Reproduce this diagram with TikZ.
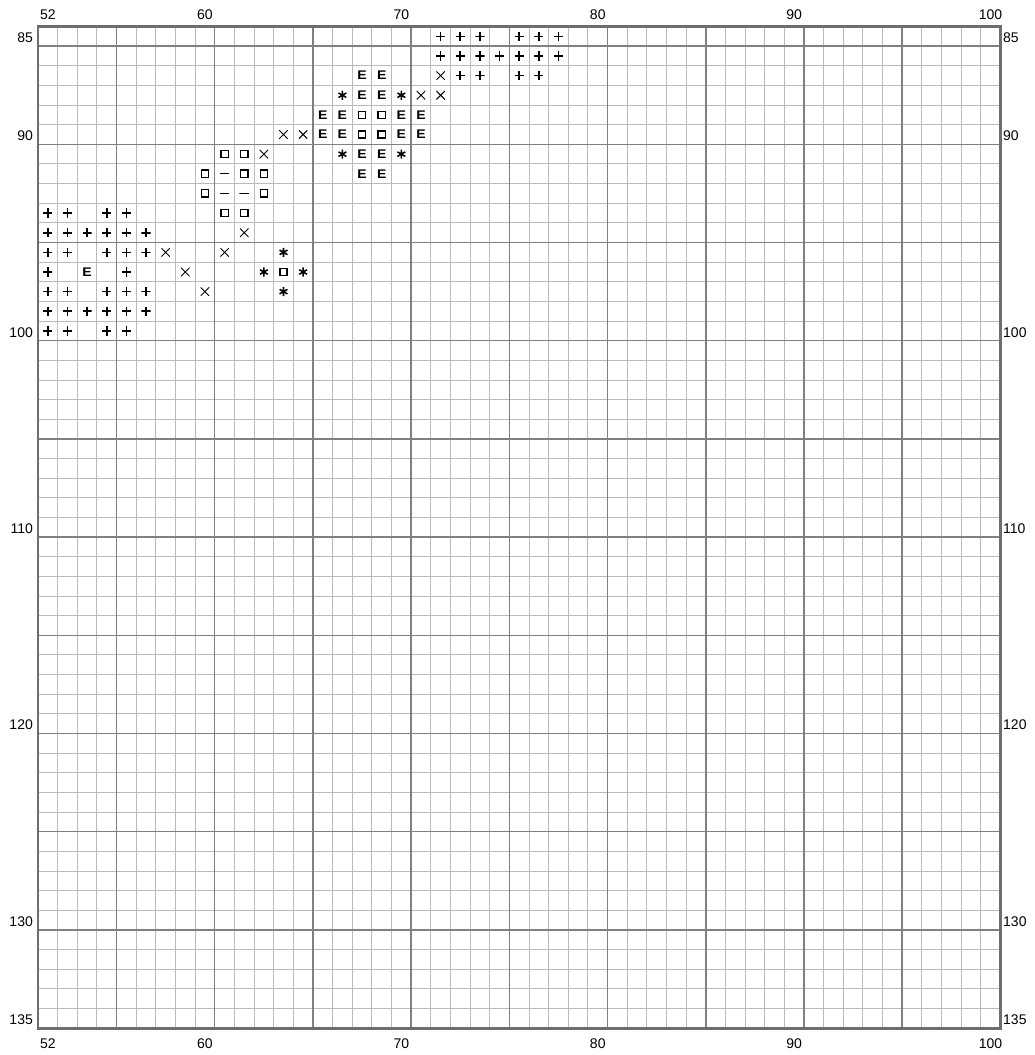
\documentclass[tikz,border=0pt]{standalone}
\usepackage{fontspec}
\setmainfont{Liberation Sans}
\begin{document}
\begin{tikzpicture}[x=14.73pt,y=14.73pt,
  thingrid/.style={draw=black!27,line width=0.75pt},
  thickgrid/.style={draw=black!50,line width=1.1pt},
  border/.style={draw=black!57,line width=2.2pt},
  lab/.style={inner sep=0pt,font=\fontsize{10.5pt}{12pt}\selectfont},
  plussym/.style={inner sep=0pt,minimum size=6.9pt,
    path picture={\draw[line width=1.2pt] (path picture bounding box.north) -- (path picture bounding box.south)
      (path picture bounding box.west) -- (path picture bounding box.east);}},
  xsym/.style={inner sep=0pt,minimum size=6.5pt,
    path picture={\draw[line width=0.7pt] (path picture bounding box.north west) -- (path picture bounding box.south east)
      (path picture bounding box.north east) -- (path picture bounding box.south west);}},
  dashsym/.style={inner sep=0pt,minimum width=7.2pt,minimum height=2pt,
    path picture={\draw[line width=1pt] (path picture bounding box.west) -- (path picture bounding box.east);}},
  sqsym/.style={draw=black,line width=1pt,inner sep=0pt,minimum size=5.45pt},
  astsym/.style={inner sep=0pt,minimum size=7pt,
    path picture={\draw[line width=1.15pt]
      ([shift={(90:3.4pt)}]path picture bounding box.center) -- ([shift={(270:3.4pt)}]path picture bounding box.center)
      ([shift={(30:3.4pt)}]path picture bounding box.center) -- ([shift={(210:3.4pt)}]path picture bounding box.center)
      ([shift={(150:3.4pt)}]path picture bounding box.center) -- ([shift={(330:3.4pt)}]path picture bounding box.center);}},
  esym/.style={inner sep=0pt,font=\bfseries\fontsize{9.4pt}{10pt}\selectfont}
]
\useasboundingbox (-1.935,-52.368) rectangle (50.713,1.349);
% grid
\foreach \i in {0,...,49} \draw[thingrid] (\i,0) -- (\i,-51);
\foreach \j in {0,...,51} \draw[thingrid] (0,-\j) -- (49,-\j);
\foreach \i in {4,9,...,44} \draw[thickgrid] (\i,0) -- (\i,-51);
\foreach \j in {1,6,...,46} \draw[thickgrid] (0,-\j) -- (49,-\j);
\draw[border] (0,0) rectangle (49,-51);
% labels
\foreach \c in {52,60,70,80,90,100} {
  \node[lab] (top\c) at ({\c-51.5},0.586) {\c};
  \node[lab] (bot\c) at ({\c-51.5},-51.8) {\c};
}
\foreach \r in {85,90,100,110,120,130,135} {
  \node[lab,anchor=east] (left\r) at (-0.25,{84.43-\r}) {\r};
  \node[lab,anchor=west] (right\r) at (49.13,{84.43-\r}) {\r};
}
% symbols
\foreach \c/\r in {72/85,73/85,74/85,76/85,77/85,78/85,
  72/86,73/86,74/86,75/86,76/86,77/86,78/86,
  73/87,74/87,76/87,77/87,
  52/94,53/94,55/94,56/94,
  52/95,53/95,54/95,55/95,56/95,57/95,
  52/96,53/96,55/96,56/96,57/96,
  52/97,56/97,
  52/98,53/98,55/98,56/98,57/98,
  52/99,53/99,54/99,55/99,56/99,57/99,
  52/100,53/100,55/100,56/100}
  \node[plussym] (p\c-\r) at ({\c-51.5},{84.5-\r}) {};
\foreach \c/\r in {72/87,71/88,72/88,64/90,65/90,63/91,62/95,58/96,61/96,59/97,60/98}
  \node[xsym] (x\c-\r) at ({\c-51.5},{84.5-\r}) {};
\foreach \c/\r in {68/87,69/87,68/88,69/88,66/89,67/89,70/89,71/89,66/90,67/90,70/90,71/90,68/91,69/91,68/92,69/92,54/97}
  \node[esym] (e\c-\r) at ({\c-51.5},{84.5-\r}) {\scalebox{1.12}[1]{E}};
\foreach \c/\r in {68/89,69/89,68/90,69/90,61/91,62/91,60/92,62/92,63/92,60/93,63/93,61/94,62/94,64/97}
  \node[sqsym] (s\c-\r) at ({\c-51.5},{84.5-\r}) {};
\foreach \c/\r in {61/92,61/93,62/93}
  \node[dashsym] (d\c-\r) at ({\c-51.5},{84.5-\r}) {};
\foreach \c/\r in {67/88,70/88,67/91,70/91,64/96,63/97,65/97,64/98}
  \node[astsym] (a\c-\r) at ({\c-51.5},{84.5-\r}) {};
\end{tikzpicture}
\end{document}
